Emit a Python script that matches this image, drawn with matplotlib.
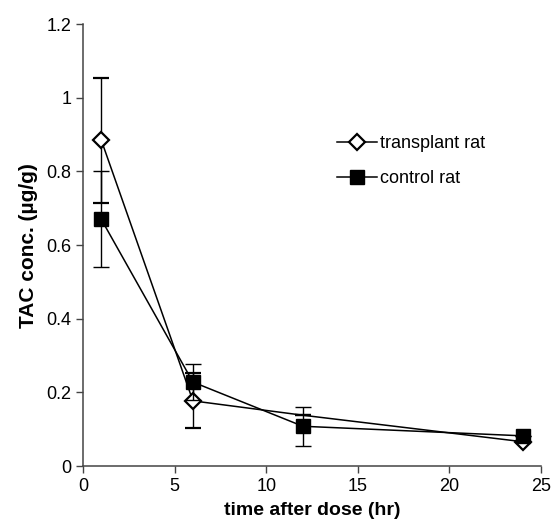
import numpy as np
import matplotlib
matplotlib.use("Agg")
import matplotlib.pyplot as plt
from matplotlib.lines import Line2D

plt.rcParams['font.family'] = ['Liberation Sans', 'DejaVu Sans']

# data
time_hr = [1, 6, 12, 24]
transplant = [0.885, 0.177, 0.138, 0.066]
transplant_err = [0.17, 0.075, 0.0, 0.0]
control = [0.670, 0.228, 0.108, 0.082]
control_err = [0.13, 0.05, 0.053, 0.0]

fig = plt.figure(figsize=(5.55, 5.26), dpi=100)
ax = fig.add_axes([0.1495, 0.114, 0.8255, 0.84])

# diamond at 12 hr is not shown in the original
diamond = dict(marker='D', markersize=8.5, markerfacecolor='white',
               markeredgecolor='black', markeredgewidth=1.6)
square = dict(marker='s', markersize=10, markerfacecolor='black',
              markeredgecolor='black')

ax.errorbar(time_hr, transplant, yerr=transplant_err, color='black', lw=1.1,
            capsize=6, elinewidth=1.0, capthick=1.0, markevery=[0, 1, 3],
            zorder=3, **diamond)
ax.errorbar(time_hr, control, yerr=control_err, color='black', lw=1.1,
            capsize=6, elinewidth=1.0, capthick=1.0, zorder=4, **square)

ax.set_xlim(0, 25)
ax.set_ylim(0, 1.2)
ax.set_xticks([0, 5, 10, 15, 20, 25])
ax.set_yticks([0, 0.2, 0.4, 0.6, 0.8, 1.0, 1.2])
ax.set_yticklabels(['0', '0.2', '0.4', '0.6', '0.8', '1', '1.2'])
ax.tick_params(direction='out', length=5, width=1, labelsize=13, color='#444444')
for side in ['top', 'right']:
    ax.spines[side].set_visible(False)
for side in ['left', 'bottom']:
    ax.spines[side].set_color('#444444')
    ax.spines[side].set_linewidth(1.1)

ax.set_xlabel('time after dose (hr)', fontsize=14, fontweight='bold', labelpad=5)
ax.set_ylabel('TAC conc. (µg/g)', fontsize=15, fontweight='bold', labelpad=6)

handles = [Line2D([], [], color='black', lw=1.1, **diamond),
           Line2D([], [], color='black', lw=1.1, **square)]
ax.legend(handles, ['transplant rat', 'control rat'], loc='upper left',
          bbox_to_anchor=(0.52, 0.785), frameon=False, fontsize=13,
          handlelength=2.2, handletextpad=0.15, labelspacing=1.0)

fig.savefig('out.png', dpi=100)
